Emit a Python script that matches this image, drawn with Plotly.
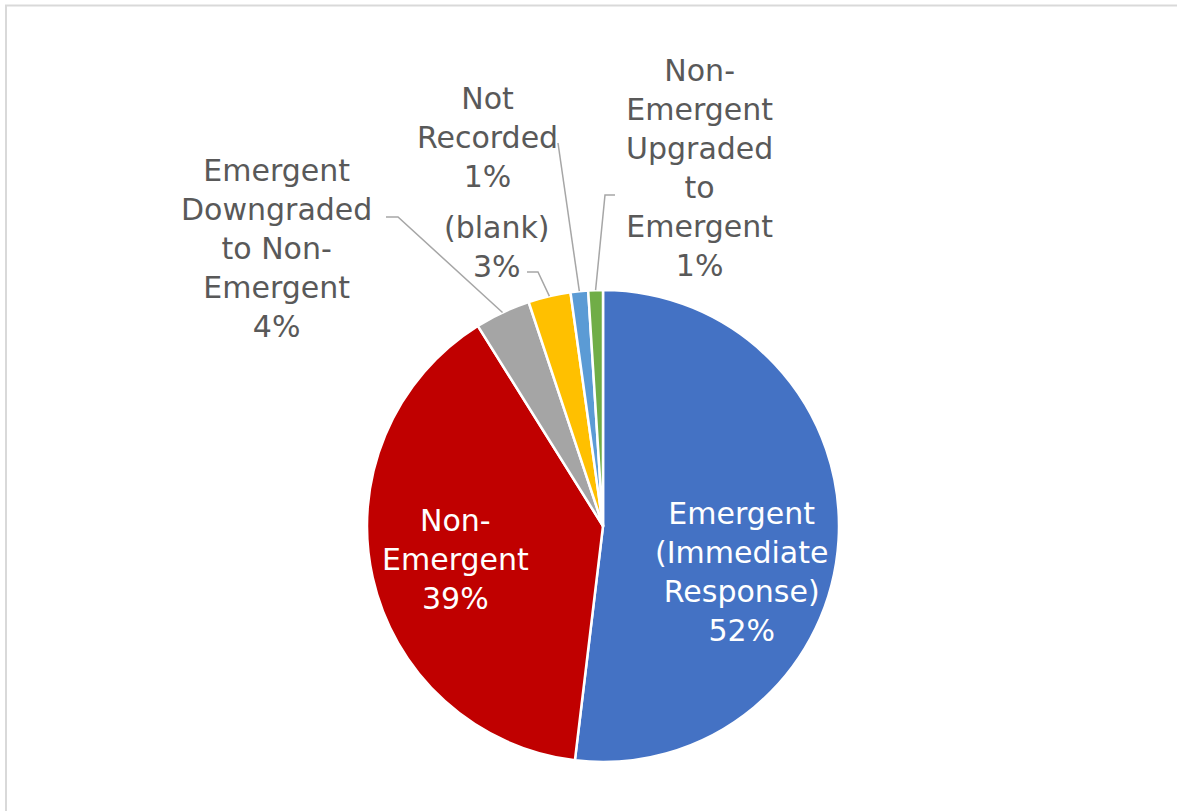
import math
import plotly.graph_objects as go

# Call classification shares (percent of all calls)
categories = [
    "Emergent (Immediate Response)",
    "Non-Emergent",
    "Emergent Downgraded to Non-Emergent",
    "(blank)",
    "Not Recorded",
    "Non-Emergent Upgraded to Emergent",
]
shares = [51.9, 39.2, 3.8, 2.9, 1.2, 1.0]
label_lines = [
    ["Emergent", "(Immediate", "Response)"],
    ["Non-", "Emergent"],
    ["Emergent", "Downgraded", "to Non-", "Emergent"],
    ["(blank)"],
    ["Not", "Recorded"],
    ["Non-", "Emergent", "Upgraded", "to", "Emergent"],
]
colors = ["#4472C4", "#C00000", "#A5A5A5", "#FFC000", "#5B9BD5", "#70AD47"]

W, H = 1177, 811
CX, CY, R = 603, 526, 236          # pie centre and radius in pixels
FONT = "DejaVu Sans"
FONT_SIZE = 30

# label block centres (px) and, for outside labels, the elbow of the leader line
label_pos = [(741, 572), (455, 559), (276, 248), (497, 247), (487, 137), (700, 168)]
inside = [True, True, False, False, False, False]
leader_start = [None, None, [(386, 217), (398, 217)], [(527, 272), (538, 272)],
                [(558, 143)], [(615, 195), (605, 195)]]


def px(x):
    return x / W


def py(y):
    return 1 - y / H


fig = go.Figure(
    go.Pie(
        labels=categories,
        values=shares,
        sort=False,
        direction="clockwise",
        rotation=0,
        marker=dict(colors=colors, line=dict(color="white", width=2.5)),
        textinfo="none",
        hoverinfo="label+percent",
        showlegend=False,
        domain=dict(x=[px(CX - R), px(CX + R)], y=[py(CY + R), py(CY - R)]),
    )
)

total = sum(shares)
annotations = []
shapes = []
cum = 0.0
for i, v in enumerate(shares):
    mid = (cum + v / 2) / total * 2 * math.pi
    cum += v
    pct = f"{round(v / total * 100)}%"
    text = "<br>".join(label_lines[i] + [pct])
    lx, ly = label_pos[i]
    annotations.append(
        dict(
            x=px(lx), y=py(ly), xref="paper", yref="paper",
            text=text, showarrow=False, xanchor="center", yanchor="middle",
            align="center",
            font=dict(family=FONT, size=FONT_SIZE,
                      color="white" if inside[i] else "#595959"),
        )
    )
    if leader_start[i]:
        ex = CX + R * math.sin(mid)
        ey = CY - R * math.cos(mid)
        pts = leader_start[i] + [(ex, ey)]
        path = "M " + " L ".join(f"{px(x):.5f},{py(y):.5f}" for x, y in pts)
        shapes.append(dict(type="path", path=path, xref="paper", yref="paper",
                           line=dict(color="#A6A6A6", width=1.5)))

# chart-area border
shapes.append(dict(type="rect", xref="paper", yref="paper",
                   x0=px(6), x1=1.02, y0=-0.02, y1=py(5.5),
                   line=dict(color="#D9D9D9", width=2)))

fig.update_layout(
    width=W, height=H,
    margin=dict(l=0, r=0, t=0, b=0),
    paper_bgcolor="white",
    plot_bgcolor="white",
    annotations=annotations,
    shapes=shapes,
)

fig.write_html("out.html")
